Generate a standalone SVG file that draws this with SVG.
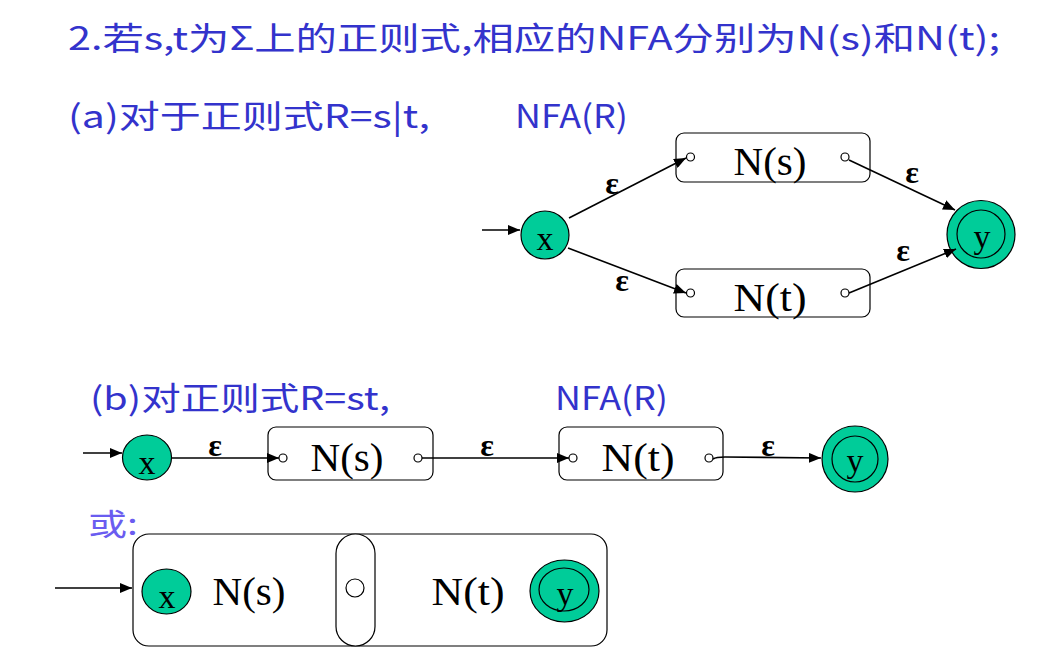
<svg xmlns="http://www.w3.org/2000/svg" width="1045" height="662" viewBox="0 0 1045 662">
<defs>
<marker id="arr" viewBox="0 0 12 10" refX="12" refY="5" markerWidth="12" markerHeight="10" markerUnits="userSpaceOnUse" orient="auto">
<path d="M0,0 L12,5 L0,10 z" fill="#000"/>
</marker>
<style>
.h{font-family:"Noto Sans CJK SC","Liberation Sans",sans-serif;font-size:32px;fill:#3333cc}
.h2{font-family:"Noto Sans CJK SC","Liberation Sans",sans-serif;font-size:30px;fill:#6a5cf0}
.lbl{font-family:"Liberation Serif",serif;font-size:40px;fill:#000}
.st{font-family:"Liberation Serif",serif;font-size:34px;fill:#000}
.eps{font-family:"Liberation Serif",serif;font-size:32px;font-weight:bold;fill:#000}
.box{fill:#fff;stroke:#000;stroke-width:1.2}
.dot{fill:#fff;stroke:#000;stroke-width:1.2}
.state{fill:#00cc99;stroke:#000;stroke-width:1.2}
.inner{fill:none;stroke:#000;stroke-width:1.2}
.e{fill:none;stroke:#000;stroke-width:1.6;marker-end:url(#arr)}
</style>
</defs>
<rect width="1045" height="662" fill="#fff"/>
<g id="texts">
<text class="h" x="68" y="50" textLength="932" lengthAdjust="spacingAndGlyphs">2.若s,t为Σ上的正则式,相应的NFA分别为N(s)和N(t);</text>
<text class="h" x="68" y="128" textLength="362" lengthAdjust="spacingAndGlyphs">(a)对于正则式R=s|t,</text>
<text class="h" x="515" y="128" textLength="113" lengthAdjust="spacingAndGlyphs">NFA(R)</text>
<text class="h" x="90" y="410" textLength="300" lengthAdjust="spacingAndGlyphs">(b)对正则式R=st,</text>
<text class="h" x="555" y="410" textLength="113" lengthAdjust="spacingAndGlyphs">NFA(R)</text>
<text class="h2" x="88" y="535" textLength="50" lengthAdjust="spacingAndGlyphs">或:</text>
</g>
<g id="a-Ns">
<rect class="box" x="676" y="133" width="194" height="49" rx="8"/>
<circle class="dot" cx="690.5" cy="157" r="4"/>
<circle class="dot" cx="845" cy="157" r="4"/>
<text class="lbl" x="770" y="175" text-anchor="middle" textLength="73" lengthAdjust="spacingAndGlyphs">N(s)</text>
</g>
<g id="a-Nt">
<rect class="box" x="676" y="269" width="194" height="48" rx="8"/>
<circle class="dot" cx="690.5" cy="293" r="4"/>
<circle class="dot" cx="845" cy="293" r="4"/>
<text class="lbl" x="770" y="311" text-anchor="middle" textLength="73" lengthAdjust="spacingAndGlyphs">N(t)</text>
</g>
<g id="a-x">
<circle class="state" cx="545" cy="235" r="24"/>
<text class="st" x="545" y="250" text-anchor="middle">x</text>
</g>
<g id="a-y">
<circle class="state" cx="981" cy="234.5" r="34"/>
<circle class="inner" cx="981" cy="234" r="24"/>
<text class="st" x="982" y="248" text-anchor="middle">y</text>
</g>
<g id="b-x">
<ellipse class="state" cx="147" cy="457.5" rx="24.5" ry="22.5"/>
<text class="st" x="147" y="474" text-anchor="middle">x</text>
</g>
<g id="b-Ns">
<rect class="box" x="268" y="427" width="165" height="53" rx="8"/>
<circle class="dot" cx="283" cy="458" r="4"/>
<circle class="dot" cx="418" cy="458" r="4"/>
<text class="lbl" x="347" y="471" text-anchor="middle" textLength="73" lengthAdjust="spacingAndGlyphs">N(s)</text>
</g>
<g id="b-Nt">
<rect class="box" x="559" y="427" width="164" height="53" rx="8"/>
<circle class="dot" cx="573" cy="458" r="4"/>
<circle class="dot" cx="709" cy="458" r="4"/>
<text class="lbl" x="638" y="471" text-anchor="middle" textLength="73" lengthAdjust="spacingAndGlyphs">N(t)</text>
</g>
<g id="b-y">
<ellipse class="state" cx="855" cy="459" rx="33" ry="33"/>
<ellipse class="inner" cx="855" cy="459" rx="23" ry="23"/>
<text class="st" x="855" y="472" text-anchor="middle">y</text>
</g>
<g id="c-frame">
<rect class="box" x="133" y="534" width="474" height="112" rx="16"/>
<rect class="box" x="336" y="534" width="39" height="112" rx="19.5"/>
<circle class="dot" cx="355" cy="588" r="9"/>
<text class="lbl" x="249" y="605" text-anchor="middle" textLength="73" lengthAdjust="spacingAndGlyphs">N(s)</text>
<text class="lbl" x="468" y="605" text-anchor="middle" textLength="73" lengthAdjust="spacingAndGlyphs">N(t)</text>
</g>
<g id="c-x">
<ellipse class="state" cx="166.5" cy="591.5" rx="24.5" ry="22.5"/>
<text class="st" x="167" y="608" text-anchor="middle">x</text>
</g>
<g id="c-y">
<ellipse class="state" cx="564.5" cy="591" rx="34.5" ry="31"/>
<ellipse class="inner" cx="564" cy="589.5" rx="25" ry="21.5"/>
<text class="st" x="565" y="605" text-anchor="middle">y</text>
</g>
<g id="connectors">
<line class="e" x1="482" y1="230" x2="520" y2="230"/>
<line class="e" x1="569" y1="218" x2="686" y2="158"/>
<line class="e" x1="568" y1="248" x2="686" y2="293"/>
<line class="e" x1="849" y1="160" x2="955" y2="210"/>
<line class="e" x1="849" y1="293" x2="956" y2="249"/>
<line class="e" x1="83" y1="453" x2="122" y2="453"/>
<line class="e" x1="172" y1="458" x2="279" y2="458"/>
<line class="e" x1="422" y1="458" x2="569" y2="458"/>
<path class="e" d="M713,459 Q716,457 725,457 L821,458"/>
<line class="e" x1="55" y1="588" x2="132" y2="588"/>
<text class="eps" x="612" y="194" text-anchor="middle">ε</text>
<text class="eps" x="622" y="291" text-anchor="middle">ε</text>
<text class="eps" x="912" y="183" text-anchor="middle">ε</text>
<text class="eps" x="903" y="261" text-anchor="middle">ε</text>
<text class="eps" x="215" y="456" text-anchor="middle">ε</text>
<text class="eps" x="487" y="456" text-anchor="middle">ε</text>
<text class="eps" x="768" y="456" text-anchor="middle">ε</text>
</g>
</svg>
